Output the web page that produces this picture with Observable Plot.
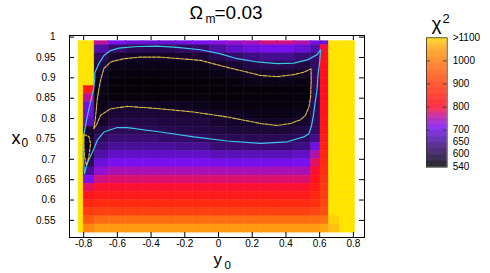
<!DOCTYPE html>
<html><head><meta charset="utf-8">
<script src="https://cdn.jsdelivr.net/npm/d3@7"></script>
<script src="https://cdn.jsdelivr.net/npm/@observablehq/plot@0.6"></script>
<style>
body{margin:0;background:#fff;}
#fig{position:relative;width:490px;height:273px;}
#main{position:absolute;left:0;top:0;}
#cb{position:absolute;left:400px;top:0;}
</style></head><body>
<div id="fig"><div id="main"></div><div id="cb"></div></div>
<script>
// y0 (horizontal) cell edges, x0 (vertical) cell edges, top -> bottom
const colEdges = [-0.83,-0.80,-0.735,-0.65,-0.55,-0.45,-0.35,-0.25,-0.15,-0.05,0.05,0.15,0.25,0.35,0.45,0.55,0.605,0.655,0.72,0.81];
const rowEdges = [0.99,0.98,0.96,0.94,0.92,0.90,0.88,0.86,0.84,0.82,0.80,0.78,0.76,0.74,0.72,0.70,0.68,0.66,0.64,0.62,0.60,0.58,0.56,0.54,0.52];
// chi^2 values, rows top -> bottom, columns left -> right
const chi2 = [
 [1150,1150,760,710,690,690,690,700,710,720,735,745,770,770,750,700,690,1150,1150],
 [1150,1150,660,620,600,595,600,610,625,655,680,695,705,705,690,660,790,1150,1150],
 [1150,1150,610,575,568,568,568,575,580,595,615,635,645,645,628,620,810,1150,1150],
 [1150,1150,585,560,557,557,557,557,560,568,578,590,595,595,586,610,810,1150,1150],
 [1150,1150,570,550,549,549,549,549,549,555,562,570,572,572,567,605,810,1150,1150],
 [1150,1150,560,546,545,545,545,545,545,548,550,556,556,556,553,600,810,1150,1150],
 [1150,830,556,546,546,546,546,546,546,546,546,548,548,548,548,600,810,1150,1150],
 [1150,760,555,550,550,550,550,550,550,547,547,547,547,547,550,600,810,1150,1150],
 [1150,700,556,568,568,568,565,565,560,555,553,550,550,550,552,600,815,1150,1150],
 [1150,690,562,580,580,580,580,575,575,568,565,560,556,556,562,602,820,1150,1150],
 [1150,670,572,590,590,590,585,585,585,575,570,570,567,567,573,605,825,1150,1150],
 [1150,575,590,602,602,600,596,593,590,585,580,580,580,580,588,612,830,1150,1150],
 [1150,565,610,625,625,625,615,615,610,600,600,600,600,600,607,640,835,1150,1150],
 [1150,565,630,650,650,650,650,645,645,625,625,625,625,625,635,700,840,1150,1150],
 [1150,570,660,680,680,680,680,680,680,670,670,670,670,670,680,750,850,1150,1150],
 [1150,600,690,710,710,710,710,710,710,705,705,705,705,705,710,780,860,1150,1150],
 [1150,650,730,745,745,745,745,745,745,745,745,745,745,745,745,800,870,1150,1150],
 [1150,710,770,775,775,775,775,775,775,775,775,775,775,775,775,815,880,1150,1150],
 [1150,780,800,800,800,800,800,800,800,800,800,800,800,800,800,830,890,1150,1150],
 [1150,820,830,830,830,830,830,830,830,830,830,830,830,830,830,850,900,1150,1150],
 [1150,850,860,860,860,860,860,860,860,860,860,860,860,860,860,870,910,1150,1150],
 [1150,890,900,900,900,900,900,900,900,900,900,900,900,900,900,910,930,1100,1150],
 [1150,940,970,975,975,975,975,975,975,975,975,975,975,975,975,975,985,1090,1150],
 [1150,1010,1040,1040,1040,1040,1040,1040,1040,1040,1040,1040,1040,1040,1040,1040,1050,1080,1150]
];
// contours [y0, x0]
const cyanContour = [[-0.734,0.912],[-0.710,0.935],[-0.680,0.955],[-0.641,0.967],[-0.591,0.973],[-0.482,0.977],[-0.364,0.978],[-0.245,0.975],[-0.107,0.969],[0.012,0.959],[0.111,0.947],[0.230,0.939],[0.348,0.935],[0.447,0.936],[0.526,0.944],[0.585,0.957],[0.605,0.969],
 [0.601,0.943],[0.590,0.906],[0.584,0.869],[0.575,0.845],[0.563,0.808],[0.552,0.783],[0.536,0.763],[0.506,0.755],
 [0.407,0.743],[0.249,0.739],[0.052,0.745],[-0.146,0.755],[-0.344,0.767],[-0.541,0.778],[-0.601,0.778],[-0.680,0.767],[-0.719,0.747],[-0.739,0.726],[-0.779,0.690],[-0.795,0.665],
 [-0.803,0.710],[-0.799,0.759],[-0.783,0.796],[-0.768,0.825],[-0.753,0.852],[-0.740,0.874],[-0.734,0.899],[-0.734,0.912]];
const yellowContour = [[-0.740,0.775],[-0.730,0.801],[-0.720,0.845],[-0.709,0.874],[-0.700,0.894],[-0.680,0.923],[-0.641,0.939],[-0.562,0.947],[-0.463,0.951],[-0.344,0.951],[-0.225,0.947],[-0.107,0.943],[0.012,0.930],[0.130,0.918],[0.249,0.906],[0.348,0.903],[0.447,0.908],[0.506,0.914],[0.549,0.922],
 [0.550,0.894],[0.546,0.853],[0.536,0.828],[0.516,0.808],[0.486,0.797],[0.427,0.788],[0.348,0.783],[0.249,0.788],[0.052,0.804],[-0.146,0.816],[-0.344,0.824],[-0.541,0.830],[-0.641,0.824],[-0.700,0.808],[-0.720,0.788],[-0.740,0.775]];
const yellowLobe = [[-0.799,0.761],[-0.769,0.756],[-0.759,0.739],[-0.769,0.706],[-0.783,0.685],[-0.795,0.706],[-0.799,0.739],[-0.799,0.761]];

const xTicks = [-0.8,-0.6,-0.4,-0.2,0,0.2,0.4,0.6,0.8];
const xTickLabels = ["-0.8","-0.6","-0.4","-0.2","0","0.2","0.4","0.6","0.8"];
const yTicks = [0.55,0.6,0.65,0.7,0.75,0.8,0.85,0.9,0.95,1];
const yTickLabels = ["0.55","0.6","0.65","0.7","0.75","0.8","0.85","0.9","0.95","1"];

const paletteDomain = [540,570,600,630,660,690,710,740,770,790,810,860,920,980,1040,1080,1100];
const paletteColors = ["#000000","#14052a","#2a0a55","#3c0c7a","#5010a8","#6a10d8","#7a10f0","#a010c0","#d01080","#f81040","#ff1020","#ff2a10","#ff4a10","#ff7010","#ff9a10","#ffc010","#ffe400"];
const cbTicks = [600,700,800,900,1000];
const cbLabelValues = [1100,1000,900,800,700,650,600,540];
const cbLabels = [">1100","1000","900","800","700","650","600","540"];

const font = "'Liberation Sans', Arial, Helvetica, sans-serif";
const palette = {type:"linear", domain: paletteDomain, range: paletteColors, clamp: true};

const cells = [];
chi2.forEach((row, i) => row.forEach((v, j) => cells.push({
  a1: colEdges[j], a2: colEdges[j+1], b1: rowEdges[i+1], b2: rowEdges[i], v
})));
const xLab = new Map(xTicks.map((t,i)=>[t, xTickLabels[i]]));
const yLab = new Map(yTicks.map((t,i)=>[t, yTickLabels[i]]));

const W = 490, H = 273, mL = 69, mR = 126, mT = 35, mB = 36;
const pw = W - mL - mR, ph = H - mT - mB;

const main = Plot.plot({
  width: W, height: H, marginLeft: mL, marginRight: mR, marginTop: mT, marginBottom: mB,
  x: {domain: [-0.884, 0.866]},
  y: {domain: [0.508, 1.004]},
  color: palette,
  style: {fontFamily: font, fontSize: "10px", background: "white", color: "black"},
  marks: [
    Plot.rect(cells, {x1: "a1", x2: "a2", y1: "b1", y2: "b2", fill: "v", stroke: "v", strokeWidth: 0.5}),
    Plot.line(cyanContour, {x: d => d[0], y: d => d[1], stroke: "#3fc3ea", strokeWidth: 1.2}),
    Plot.line(yellowContour, {x: d => d[0], y: d => d[1], stroke: "#dcc24a", strokeWidth: 1.1, strokeDasharray: "3.5,1.2"}),
    Plot.line(yellowLobe, {x: d => d[0], y: d => d[1], stroke: "#dcc24a", strokeWidth: 1.1, strokeDasharray: "3,1.5"}),
    Plot.frame({stroke: "black", strokeWidth: 1}),
    Plot.tickX(xTicks, {x: d => d, insetTop: ph - 5, stroke: "black"}),
    Plot.tickX(xTicks, {x: d => d, insetBottom: ph - 5, stroke: "black"}),
    Plot.tickY(yTicks, {y: d => d, insetRight: pw - 5, stroke: "black"}),
    Plot.tickY(yTicks, {y: d => d, insetLeft: pw - 5, stroke: "black"}),
    Plot.axisX(xTicks, {tickSize: 0, tickPadding: 2, tickFormat: d => xLab.get(d), label: null, fontSize: 10}),
    Plot.axisY(yTicks, {tickSize: 0, tickPadding: 14, tickFormat: d => yLab.get(d), label: null, fontSize: 10}),
    // title
    Plot.text(["Ω"], {frameAnchor: "top-left", dx: 189 - mL, dy: 18.5 - mT, textAnchor: "start", lineAnchor: "bottom", fontSize: 18}),
    Plot.text(["m"], {frameAnchor: "top-left", dx: 205 - mL, dy: 22 - mT, textAnchor: "start", lineAnchor: "bottom", fontSize: 12}),
    Plot.text(["=0.03"], {frameAnchor: "top-left", dx: 214 - mL, dy: 18.5 - mT, textAnchor: "start", lineAnchor: "bottom", fontSize: 19}),
    // axis labels
    Plot.text(["x"], {frameAnchor: "top-left", dx: 11 - mL, dy: 143.5 - mT, textAnchor: "start", lineAnchor: "bottom", fontSize: 18}),
    Plot.text(["0"], {frameAnchor: "top-left", dx: 21 - mL, dy: 146 - mT, textAnchor: "start", lineAnchor: "bottom", fontSize: 12}),
    Plot.text(["y"], {frameAnchor: "bottom-left", dx: 213 - mL, dy: 264.5 - (H - mB), textAnchor: "start", lineAnchor: "bottom", fontSize: 17}),
    Plot.text(["0"], {frameAnchor: "bottom-left", dx: 224 - mL, dy: 268.5 - (H - mB), textAnchor: "start", lineAnchor: "bottom", fontSize: 11.5})
  ]
});
document.getElementById("main").appendChild(main);

const ramp = d3.range(540, 1100, 2);
const cbW = 90, cbH = 200, cL = 26, cR = 43.3, cT = 37.3, cB = 33.3;
const cbInner = cbW - cL - cR;
const cb = Plot.plot({
  width: cbW, height: cbH, marginLeft: cL, marginRight: cR, marginTop: cT, marginBottom: cB,
  x: {domain: [0, 1], axis: null},
  y: {domain: [540, 1100], axis: null},
  color: palette,
  style: {fontFamily: font, fontSize: "10px", background: "transparent", color: "black", overflow: "visible"},
  marks: [
    Plot.rect(ramp, {x1: 0, x2: 1, y1: d => d, y2: d => Math.min(1100, d + 2.6), fill: d => d}),
    Plot.frame({stroke: "#333", strokeWidth: 0.8}),
    Plot.tickY(cbTicks, {y: d => d, insetRight: cbInner - 4, stroke: "#333", strokeWidth: 0.8}),
    Plot.tickY(cbTicks, {y: d => d, insetLeft: cbInner - 4, stroke: "#333", strokeWidth: 0.8}),
    Plot.text(cbLabelValues, {x: 1, y: d => d, text: (d, i) => cbLabels[i], dx: 5.5, textAnchor: "start", fontSize: 10}),
    Plot.text(["χ"], {frameAnchor: "top-left", dx: 431 - 400 - cL, dy: 29 - cT, textAnchor: "start", lineAnchor: "bottom", fontSize: 19}),
    Plot.text(["2"], {frameAnchor: "top-left", dx: 442 - 400 - cL, dy: 22.5 - cT, textAnchor: "start", lineAnchor: "bottom", fontSize: 13})
  ]
});
document.getElementById("cb").appendChild(cb);
</script>
</body></html>
